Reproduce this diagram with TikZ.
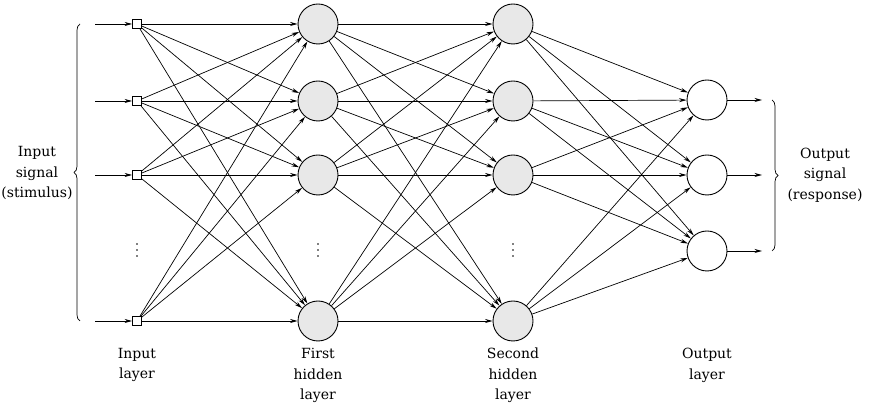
\documentclass[tikz,border=0pt]{standalone}
\usepackage{fontspec}
\setmainfont{DejaVu Serif}
\usetikzlibrary{arrows.meta,decorations.pathreplacing}
\tikzset{
  unit/.style={circle,draw=black,line width=0.9pt,minimum size=40pt,inner sep=0pt},
  hidden/.style={unit,fill=gray!18},
  source/.style={rectangle,draw=black,line width=0.8pt,fill=white,minimum size=9pt,inner sep=0pt},
  link/.style={-{Stealth[length=7.5pt,width=4pt]},line width=0.7pt},
  caption/.style={align=center,font=\fontsize{14}{20.5}\selectfont,inner sep=0pt}
}

\begin{document}
\begin{tikzpicture}[x=1pt,y=1pt]
\useasboundingbox (0,0) rectangle (869,414);
% input layer and both hidden layers:
\foreach \i/\y in {1/390,2/313,3/239,4/93}{
  \coordinate (src\i) at (95,\y);
  \node[source] (in\i) at (137,\y) {};
  \node[hidden] (hA\i) at (318,\y) {};
  \node[hidden] (hB\i) at (513,\y) {};
}
% output layer:
\foreach \k/\y in {1/314,2/239,3/163}{
  \node[unit] (out\k) at (707,\y) {};
  \coordinate (res\k) at (762,\y);
}
% dots for the units left out:
\foreach \x in {137,318,513}
  \foreach \y in {158,164,170}
    \fill (\x,\y) circle (0.9pt);
% connections:
\foreach \i in {1,...,4}{
  \draw[link] (src\i) -- (in\i);
  \foreach \j in {1,...,4}{
    \draw[link] (in\i) -- (hA\j);
    \draw[link] (hA\i) -- (hB\j);
  }
  \foreach \k in {1,2,3}
    \draw[link] (hB\i) -- (out\k);
}
\foreach \k in {1,2,3}
  \draw[link] (out\k) -- (res\k);
% braces and signal labels:
\draw[line width=0.7pt,decorate,decoration={brace,amplitude=6pt}] (80,93) -- (80,390);
\draw[line width=0.7pt,decorate,decoration={brace,amplitude=6pt}] (772,314) -- (772,163);
\node[caption] (inSignal) at (37,241) {Input\\signal\\(stimulus)};
\node[caption] (outSignal) at (825,239) {Output\\signal\\(response)};
% layer names:
\node[caption,anchor=north] (inName) at (137,66) {Input\\layer};
\node[caption,anchor=north] (hAName) at (318,66) {First\\hidden\\layer};
\node[caption,anchor=north] (hBName) at (513,66) {Second\\hidden\\layer};
\node[caption,anchor=north] (outName) at (707,66) {Output\\layer};
\end{tikzpicture}
\end{document}
